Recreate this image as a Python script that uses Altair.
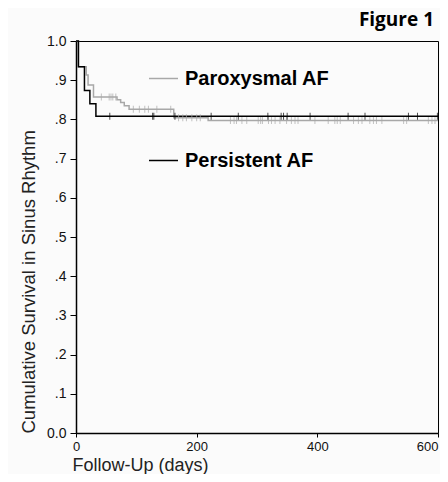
import altair as alt
import pandas as pd

groups = ["Paroxysmal AF", "Persistent AF"]
colors = ["#a8a8a8", "#000000"]

# Kaplan-Meier step curves (change points)
parox_days = [0, 4, 17, 20, 29, 68, 74, 80, 88, 162, 219, 600]
parox_surv = [1.0, 0.934, 0.913, 0.888, 0.857, 0.850, 0.843, 0.835, 0.826, 0.804, 0.797, 0.797]
pers_days = [0, 4, 14, 23, 33, 600]
pers_surv = [1.0, 0.934, 0.874, 0.840, 0.808, 0.808]

# censored observations (days)
parox_censor = [42, 55, 58, 61, 66, 95, 105, 114, 120, 134, 157,
                170, 177, 183, 192, 200, 206, 256, 262, 266, 275, 283,
                302, 306, 309, 319, 324, 330, 338, 349, 357, 363, 368, 396, 418,
                429, 433, 438, 460, 468, 474, 487, 493, 498, 507, 543, 548,
                584, 590, 595]
pers_censor = [56, 127, 129, 164, 224, 269, 318, 340, 344, 350, 388,
               451, 479, 551, 566, 599]

x_ticks = [0, 200, 400, 600]
y_ticks = [0.0, 0.1, 0.2, 0.3, 0.4, 0.5, 0.6, 0.7, 0.8, 0.9, 1.0]


def level(days, surv, t):
    v = surv[0]
    for d, s in zip(days, surv):
        if d <= t:
            v = s
    return v


curve_rows = []
for d, s in zip(parox_days, parox_surv):
    curve_rows.append({"day": d, "surv": s, "group": groups[0], "ord": 0})
for d, s in zip(pers_days, pers_surv):
    curve_rows.append({"day": d, "surv": s, "group": groups[1], "ord": 1})
curves = pd.DataFrame(curve_rows)

cens_rows = []
for t in parox_censor:
    cens_rows.append({"day": t, "surv": level(parox_days, parox_surv, t), "group": groups[0]})
for t in pers_censor:
    cens_rows.append({"day": t, "surv": level(pers_days, pers_surv, t), "group": groups[1]})
cens = pd.DataFrame(cens_rows)

color_scale = alt.Scale(domain=groups, range=colors)
x_axis = alt.Axis(values=x_ticks, title="Follow-Up (days)", grid=False,
                  tickSize=4, labelPadding=3, labelFontSize=13,
                  labelOverlap=False, labelFlush=False,
                  labelAlign=alt.ExprRef(expr="datum.value == 600 ? 'right' : 'center'"),
                  titleAnchor="start", titleAlign="left", titleX=-4, titleY=37,
                  titleFontSize=18, titleBaseline="alphabetic")
y_axis = alt.Axis(values=y_ticks, title="Cumulative Survival in Sinus Rhythm",
                  grid=False, tickSize=6, labelPadding=4, labelFontSize=14,
                  labelOverlap=False, labelFlush=False,
                  labelExpr="datum.value == 0 ? '0.0' : datum.value == 1 ? '1.0' : '.' + format(datum.value * 10, '.0f')",
                  titleAnchor="start", titleAlign="left", titleX=-42, titleY=392,
                  titleFontSize=18.5, titleBaseline="alphabetic")
x_scale = alt.Scale(domain=[0, 600], nice=False)
y_scale = alt.Scale(domain=[0, 1], nice=False)

lines = alt.Chart(curves).mark_line(interpolate="step-after", strokeWidth=1.5).encode(
    x=alt.X("day:Q", scale=x_scale, axis=x_axis),
    y=alt.Y("surv:Q", scale=y_scale, axis=y_axis),
    color=alt.Color("group:N", scale=color_scale,
                    legend=alt.Legend(title=None, orient="none", legendX=72, legendY=22,
                                      symbolType="stroke", symbolSize=841,
                                      symbolStrokeWidth=1.5, labelFont="Liberation Sans",
                                      labelFontSize=20, labelFontWeight="bold",
                                      labelColor="#000", labelOffset=6, rowPadding=56)),
    order="ord:Q",
    detail="group:N",
)

ticks = alt.Chart(cens).mark_tick(orient="vertical", size=7, thickness=1).encode(
    x=alt.X("day:Q", scale=x_scale, axis=x_axis),
    y=alt.Y("surv:Q", scale=y_scale, axis=y_axis),
    color=alt.Color("group:N", scale=color_scale, legend=None),
)

chart = alt.layer(lines, ticks).properties(
    width=362,
    height=392,
    autosize=alt.AutoSizeParams(type="none"),
    padding={"left": 68, "top": 33, "right": 2, "bottom": 41},
    title=alt.TitleParams("Figure 1", anchor="end", frame="group", font="Open Sans",
                          fontSize=19, fontWeight="bold", color="#000", offset=4, dx=-4),
).configure(
    background="#fbfbfb",
).configure_view(
    stroke="#000", strokeWidth=1,
).configure_axis(
    domainColor="#000", domainWidth=1.5, tickColor="#000",
    labelFont="Liberation Sans", labelColor="#111",
    titleFont="Liberation Sans", titleFontWeight="normal", titleColor="#222",
)

chart.save("out.html", embed_options={"renderer": "svg", "actions": False})
